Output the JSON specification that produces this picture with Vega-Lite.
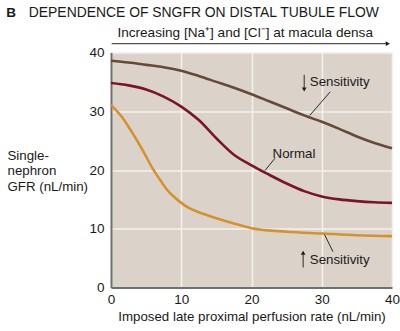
{
  "$schema": "https://vega.github.io/schema/vega-lite/v6.json",
  "width": 281,
  "height": 235,
  "autosize": {"type": "none"},
  "padding": {"left": 111, "top": 52.5, "right": 8, "bottom": 43.5},
  "background": "white",
  "config": {
    "view": {"fill": "#dbd3ca", "stroke": null},
    "font": "Liberation Sans",
    "axis": {
      "labelFont": "Liberation Sans",
      "labelFontSize": 13.5,
      "labelColor": "#1a1a1a",
      "titleFont": "Liberation Sans",
      "titleFontSize": 13.3,
      "titleFontWeight": "normal",
      "titleColor": "#1a1a1a",
      "ticks": false,
      "domainColor": "#707070",
      "domainWidth": 2,
      "gridColor": "#f4f0eb",
      "gridWidth": 1.5,
      "gridOpacity": 1
    }
  },
  "datasets": {
    "curves": [
      {"series": "Decreased", "x": 0, "y": 38.6},
      {"series": "Decreased", "x": 2.5, "y": 38.3},
      {"series": "Decreased", "x": 5, "y": 37.9},
      {"series": "Decreased", "x": 7.5, "y": 37.5},
      {"series": "Decreased", "x": 10, "y": 36.9},
      {"series": "Decreased", "x": 12.5, "y": 36.0},
      {"series": "Decreased", "x": 15, "y": 35.0},
      {"series": "Decreased", "x": 17.5, "y": 34.0},
      {"series": "Decreased", "x": 20, "y": 32.9},
      {"series": "Decreased", "x": 22.5, "y": 31.7},
      {"series": "Decreased", "x": 25, "y": 30.5},
      {"series": "Decreased", "x": 27.5, "y": 29.3},
      {"series": "Decreased", "x": 30, "y": 28.2},
      {"series": "Decreased", "x": 32.5, "y": 27.0},
      {"series": "Decreased", "x": 35, "y": 25.7},
      {"series": "Decreased", "x": 37.5, "y": 24.6},
      {"series": "Decreased", "x": 40, "y": 23.7},
      {"series": "Normal", "x": 0, "y": 34.8},
      {"series": "Normal", "x": 2.5, "y": 34.4},
      {"series": "Normal", "x": 5, "y": 33.7},
      {"series": "Normal", "x": 7.5, "y": 32.5},
      {"series": "Normal", "x": 10, "y": 30.8},
      {"series": "Normal", "x": 12.5, "y": 28.5},
      {"series": "Normal", "x": 15, "y": 25.4},
      {"series": "Normal", "x": 17.5, "y": 22.6},
      {"series": "Normal", "x": 20, "y": 20.8},
      {"series": "Normal", "x": 22.5, "y": 19.2},
      {"series": "Normal", "x": 25, "y": 17.7},
      {"series": "Normal", "x": 27.5, "y": 16.4},
      {"series": "Normal", "x": 30, "y": 15.5},
      {"series": "Normal", "x": 32.5, "y": 15.0},
      {"series": "Normal", "x": 35, "y": 14.7},
      {"series": "Normal", "x": 37.5, "y": 14.5},
      {"series": "Normal", "x": 40, "y": 14.4},
      {"series": "Increased", "x": 0, "y": 31.1},
      {"series": "Increased", "x": 1.5, "y": 29.1},
      {"series": "Increased", "x": 3, "y": 26.4},
      {"series": "Increased", "x": 4.5, "y": 23.4},
      {"series": "Increased", "x": 6, "y": 20.1},
      {"series": "Increased", "x": 7, "y": 18.3},
      {"series": "Increased", "x": 8, "y": 16.6},
      {"series": "Increased", "x": 9, "y": 15.4},
      {"series": "Increased", "x": 10, "y": 14.4},
      {"series": "Increased", "x": 11, "y": 13.6},
      {"series": "Increased", "x": 12.5, "y": 12.8},
      {"series": "Increased", "x": 15, "y": 11.8},
      {"series": "Increased", "x": 17.5, "y": 10.9},
      {"series": "Increased", "x": 20, "y": 10.1},
      {"series": "Increased", "x": 25, "y": 9.5},
      {"series": "Increased", "x": 30, "y": 9.2},
      {"series": "Increased", "x": 35, "y": 8.9},
      {"series": "Increased", "x": 40, "y": 8.75}
    ],
    "labels": [
      {"x": 28.3, "y": 35.0, "text": "Sensitivity", "kind": "annot"},
      {"x": 23.0, "y": 22.7, "text": "Normal", "kind": "annot"},
      {"x": 28.3, "y": 4.7, "text": "Sensitivity", "kind": "annot"},
      {"x": -11.7, "y": 46.7, "text": "DEPENDENCE OF SNGFR ON DISTAL TUBULE FLOW", "kind": "title"},
      {"x": 19.1, "y": 43.3, "text": "Increasing [Na⁺] and [Cl⁻] at macula densa", "kind": "sub"},
      {"x": -14.2, "y": 46.7, "text": "B", "kind": "letter"}
    ],
    "leaders": [
      {"x": 31.2, "y": 33.3, "x2": 28.3, "y2": 29.3},
      {"x": 23.35, "y": 22.0, "x2": 21.9, "y2": 19.9},
      {"x": 30.4, "y": 9.0, "x2": 31.6, "y2": 6.1},
      {"x": 27.5, "y": 36.2, "x2": 27.5, "y2": 34.0},
      {"x": 27.35, "y": 3.4, "x2": 27.35, "y2": 5.6},
      {"x": 0.1, "y": 41.5, "x2": 39.2, "y2": 41.5}
    ],
    "heads": [
      {"x": 27.5, "y": 33.7, "shape": "triangle-down"},
      {"x": 27.35, "y": 5.9, "shape": "triangle-up"},
      {"x": 39.4, "y": 41.5, "shape": "triangle-right"}
    ]
  },
  "layer": [
    {
      "data": {"name": "curves"},
      "mark": {"type": "line", "interpolate": "monotone", "strokeWidth": 2.6},
      "encoding": {
        "x": {
          "field": "x", "type": "quantitative",
          "scale": {"domain": [0, 40], "nice": false},
          "axis": {
            "values": [0, 10, 20, 30, 40],
            "title": "Imposed late proximal perfusion rate (nL/min)",
            "labelFlush": false,
            "labelPadding": 5,
            "titlePadding": 3,
            "grid": true
          }
        },
        "y": {
          "field": "y", "type": "quantitative",
          "scale": {"domain": [0, 40], "nice": false},
          "axis": {
            "values": [0, 10, 20, 30, 40],
            "title": ["Single-", "nephron", "GFR (nL/min)"],
            "titleAngle": 0,
            "titleAlign": "left",
            "titleBaseline": "middle",
            "titleX": -104,
            "titleY": 102.5,
            "titleLineHeight": 15.5,
            "labelPadding": 7,
            "grid": true
          }
        },
        "color": {
          "field": "series", "type": "nominal",
          "scale": {"domain": ["Decreased", "Normal", "Increased"], "range": ["#654a3a", "#7a1428", "#d4922e"]},
          "legend": null
        }
      }
    },
    {
      "data": {"name": "leaders"},
      "mark": {"type": "rule", "color": "#2a2a2a", "strokeWidth": 1},
      "encoding": {
        "x": {"field": "x", "type": "quantitative"},
        "y": {"field": "y", "type": "quantitative"},
        "x2": {"field": "x2"},
        "y2": {"field": "y2"}
      }
    },
    {
      "data": {"name": "heads"},
      "mark": {"type": "point", "filled": true, "size": 22, "color": "#1a1a1a", "opacity": 1},
      "encoding": {
        "x": {"field": "x", "type": "quantitative"},
        "y": {"field": "y", "type": "quantitative"},
        "shape": {"field": "shape", "type": "nominal", "scale": null}
      }
    },
    {
      "data": {"name": "labels"},
      "transform": [{"filter": "datum.kind == 'annot'"}],
      "mark": {"type": "text", "align": "left", "baseline": "middle", "fontSize": 13.3, "color": "#1a1a1a", "font": "Liberation Sans"},
      "encoding": {
        "x": {"field": "x", "type": "quantitative"},
        "y": {"field": "y", "type": "quantitative"},
        "text": {"field": "text"}
      }
    },
    {
      "data": {"name": "labels"},
      "transform": [{"filter": "datum.kind == 'title'"}],
      "mark": {"type": "text", "align": "left", "baseline": "middle", "fontSize": 13.9, "color": "#1a1a1a", "font": "Liberation Sans"},
      "encoding": {
        "x": {"field": "x", "type": "quantitative"},
        "y": {"field": "y", "type": "quantitative"},
        "text": {"field": "text"}
      }
    },
    {
      "data": {"name": "labels"},
      "transform": [{"filter": "datum.kind == 'sub'"}],
      "mark": {"type": "text", "align": "center", "baseline": "middle", "fontSize": 13.6, "color": "#1a1a1a", "font": "Liberation Sans"},
      "encoding": {
        "x": {"field": "x", "type": "quantitative"},
        "y": {"field": "y", "type": "quantitative"},
        "text": {"field": "text"}
      }
    },
    {
      "data": {"name": "labels"},
      "transform": [{"filter": "datum.kind == 'letter'"}],
      "mark": {"type": "text", "align": "center", "baseline": "middle", "fontSize": 13.5, "fontWeight": "bold", "color": "#1a1a1a", "font": "Liberation Sans"},
      "encoding": {
        "x": {"field": "x", "type": "quantitative"},
        "y": {"field": "y", "type": "quantitative"},
        "text": {"field": "text"}
      }
    }
  ]
}
